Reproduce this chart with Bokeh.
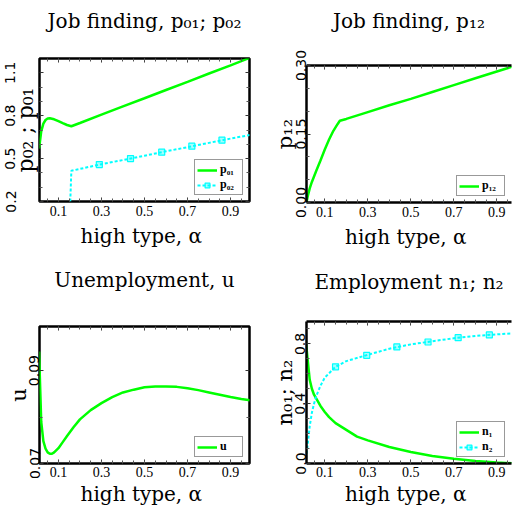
from bokeh.plotting import figure
from bokeh.models import (Range1d, LinearAxis, FixedTicker, NumeralTickFormatter,
                          Legend, LegendItem)
from bokeh.layouts import row, column
from bokeh.embed import file_html
from bokeh.resources import INLINE

# ---------------- data ----------------
alpha_p01 = [0.01, 0.02, 0.03, 0.04, 0.05, 0.06, 0.08, 0.10, 0.12, 0.14, 0.16,
             0.20, 0.30, 0.40, 0.50, 0.60, 0.70, 0.80, 0.90, 0.99]
p01 = [0.57, 0.69, 0.745, 0.77, 0.78, 0.782, 0.775, 0.762, 0.748, 0.735, 0.726,
       0.749, 0.807, 0.865, 0.922, 0.98, 1.037, 1.095, 1.152, 1.205]

alpha_p02 = [0.155, 0.16, 0.20, 0.30, 0.40, 0.50, 0.60, 0.70, 0.80, 0.90, 0.99]
p02 = [0.20, 0.415, 0.428, 0.461, 0.49, 0.52, 0.551, 0.58, 0.61, 0.64, 0.665]
alpha_p02_mk = [0.29, 0.435, 0.58, 0.72, 0.86]
p02_mk = [0.458, 0.50, 0.545, 0.587, 0.629]

alpha_p12 = [0.015, 0.02, 0.03, 0.04, 0.06, 0.08, 0.10, 0.12, 0.14, 0.16, 0.17,
             0.20, 0.30, 0.40, 0.50, 0.60, 0.70, 0.80, 0.90, 0.99]
p12 = [0.0, 0.012, 0.031, 0.045, 0.069, 0.092, 0.116, 0.138, 0.157, 0.172, 0.179,
       0.183, 0.198, 0.213, 0.227, 0.242, 0.257, 0.272, 0.287, 0.300]

alpha_u = [0.01, 0.02, 0.03, 0.04, 0.05, 0.06, 0.07, 0.08, 0.10, 0.12, 0.14, 0.17,
           0.20, 0.25, 0.30, 0.35, 0.40, 0.45, 0.50, 0.55, 0.60, 0.65, 0.70, 0.75,
           0.80, 0.85, 0.90, 0.95, 0.99]
u = [0.0941, 0.0790, 0.0748, 0.0732, 0.0724, 0.0721, 0.0721, 0.0724, 0.0733, 0.0746,
     0.0759, 0.0778, 0.0795, 0.0815, 0.0830, 0.0843, 0.0853, 0.0859, 0.0864, 0.0866,
     0.0866, 0.0865, 0.0862, 0.0858, 0.0853, 0.0848, 0.0843, 0.0839, 0.0836]

alpha_n1 = [0.01, 0.02, 0.03, 0.04, 0.05, 0.06, 0.08, 0.10, 0.12, 0.15, 0.20, 0.25,
            0.30, 0.40, 0.50, 0.60, 0.70, 0.80, 0.90, 0.99]
n1 = [0.85, 0.70, 0.56, 0.50, 0.46, 0.435, 0.385, 0.345, 0.31, 0.27, 0.225, 0.18,
      0.155, 0.11, 0.077, 0.05, 0.032, 0.017, 0.006, 0.0]

alpha_n2 = [0.01, 0.02, 0.03, 0.04, 0.05, 0.06, 0.08, 0.10, 0.15, 0.20, 0.30, 0.40,
            0.50, 0.60, 0.70, 0.80, 0.90, 0.99]
n2 = [0.0, 0.12, 0.25, 0.34, 0.40, 0.45, 0.52, 0.575, 0.647, 0.685, 0.727, 0.768,
      0.797, 0.818, 0.838, 0.853, 0.864, 0.872]
alpha_n2_mk = [0.15, 0.295, 0.435, 0.58, 0.72, 0.865]
n2_mk = [0.647, 0.724, 0.78, 0.813, 0.842, 0.86]

x_ticks = [0.1, 0.3, 0.5, 0.7, 0.9]
x_minor = [0.05, 0.1, 0.15, 0.2, 0.25, 0.3, 0.35, 0.4, 0.45, 0.5, 0.55, 0.6,
           0.65, 0.7, 0.75, 0.8, 0.85, 0.9, 0.95]

GREEN = "#00ff00"
CYAN = "#00ffff"
SERIF = "DejaVu Serif"
XLAB = "high type,  \u03b1"


def hide_labels(a):
    a.major_label_text_font_size = "1px"
    a.major_label_text_color = None
    a.major_label_standoff = 0


def ticks_in(a):
    a.major_tick_in = 4
    a.major_tick_out = 0
    a.minor_tick_in = 3
    a.minor_tick_out = 0
    a.major_tick_line_color = "#333333"
    a.minor_tick_line_color = "#555555"


def style_label(a, size="20px"):
    a.axis_label_text_font = SERIF
    a.axis_label_text_font_size = size
    a.axis_label_text_font_style = "normal"
    a.axis_label_text_color = "black"


def panel(width, height, bl, br, bt, bb, xr, yr, yticks, yminor, yfmt,
          title, t_stand, ylabel, y_tick_stand, y_lab_stand, x_tick_stand,
          x_lab_stand, open_right, outer_ticklabels=False, outer_stand=0,
          ylab_size="21px"):
    p = figure(width=width, height=height, output_backend="svg",
               toolbar_location=None, x_range=Range1d(*xr), y_range=Range1d(*yr),
               min_border_left=bl, min_border_right=br, min_border_top=bt,
               min_border_bottom=bb, background_fill_color="white",
               border_fill_color="white")
    p.xgrid.visible = False
    p.ygrid.visible = False

    xt = FixedTicker(ticks=x_ticks, minor_ticks=x_minor)
    yt = FixedTicker(ticks=yticks, minor_ticks=yminor)
    yf = NumeralTickFormatter(format=yfmt)

    # bottom axis: tick labels + x label
    xa = p.xaxis[0]
    xa.ticker = xt
    xa.formatter = NumeralTickFormatter(format="0.0")
    xa.major_label_text_font = "Liberation Serif"
    xa.major_label_text_font_size = "14px"
    xa.major_label_text_color = "black"
    xa.major_label_standoff = x_tick_stand
    xa.axis_label = XLAB
    style_label(xa)
    xa.axis_label_standoff = x_lab_stand

    # left axis
    ya = p.yaxis[0]
    ya.ticker = yt
    ya.formatter = yf
    ya.major_label_orientation = "vertical"
    ya.major_label_text_font = "DejaVu Sans"
    ya.major_label_text_font_size = "14px"
    ya.major_label_text_color = "black"
    ya.major_label_standoff = y_tick_stand
    ya.axis_label = ylabel
    style_label(ya, ylab_size)
    ya.axis_label_standoff = y_lab_stand
    if outer_ticklabels:
        hide_labels(ya)
        oy = LinearAxis(ticker=yt, formatter=yf, major_label_orientation="vertical",
                        major_label_text_font="DejaVu Sans",
                        major_label_text_font_size="14px",
                        major_label_text_color="black",
                        major_label_standoff=outer_stand,
                        major_tick_in=0, major_tick_out=0, minor_tick_in=0,
                        minor_tick_out=0, axis_line_color=None)
        p.add_layout(oy, "left")

    # top axis: ticks + title as its label
    top = LinearAxis(ticker=xt, axis_label=title)
    hide_labels(top)
    style_label(top)
    top.axis_label_standoff = t_stand
    p.add_layout(top, "above")

    axes = [xa, ya, top]
    if not open_right:
        right = LinearAxis(ticker=yt)
        hide_labels(right)
        p.add_layout(right, "right")
        axes.append(right)
    for a in axes:
        ticks_in(a)
    if open_right:
        p.outline_line_color = None
        for a in (xa, ya, top):
            a.axis_line_color = "black"
            a.axis_line_width = 2.5
    else:
        p.outline_line_color = "black"
        p.outline_line_width = 2.5
        for a in axes:
            a.axis_line_color = None
    return p


def legend(p, items):
    lg = Legend(items=items, location="bottom_right", margin=6, padding=2,
                spacing=0, border_line_color="#333333", border_line_width=1.5,
                background_fill_alpha=1.0, label_text_font="Liberation Serif",
                label_text_font_size="12px", label_text_font_style="bold",
                label_text_color="black",
                glyph_width=20, glyph_height=12, label_height=12,
                label_standoff=3)
    p.add_layout(lg)


# ---- top left: p01, p02 ----
p1 = panel(256, 256, 39, 7, 58, 55, (0.012, 0.988), (0.2, 1.2),
           [0.2, 0.5, 0.8, 1.1], [0.3, 0.4, 0.6, 0.7, 0.9, 1.0], "0.0",
           "Job finding, p\u2080\u2081; p\u2080\u2082", 26,
           "p\u2080\u2082 ; p\u2080\u2081", 0, 2, 4, 5, False,
           outer_ticklabels=True, outer_stand=-6, ylab_size="22px")
r1 = p1.line(alpha_p01, p01, line_color=GREEN, line_width=2.5)
r2 = p1.line(alpha_p02, p02, line_color=CYAN, line_width=2, line_dash="3 2")
r2m = p1.scatter(alpha_p02_mk, p02_mk, marker="square", size=6, line_color=CYAN,
                 fill_color=CYAN, fill_alpha=0.35, line_width=1.2)
legend(p1, [LegendItem(label="p\u2080\u2081", renderers=[r1]),
            LegendItem(label="p\u2080\u2082", renderers=[r2, r2m])])

# ---- top right: p12 ----
p2 = panel(256, 256, 50, 1, 65, 54, (0.015, 0.968), (0.0, 0.30),
           [0.0, 0.15, 0.30], [0.05, 0.1, 0.2, 0.25], "0.00",
           "Job finding, p\u2081\u2082", 33,
           "p\u2081\u2082", 1, -4, 4, 5, True)
r3 = p2.line(alpha_p12, p12, line_color=GREEN, line_width=2.5)
legend(p2, [LegendItem(label="p\u2081\u2082", renderers=[r3])])

# ---- bottom left: u ----
p3 = panel(256, 258, 39, 7, 70, 51, (0.012, 0.988), (0.070, 0.0995),
           [0.07, 0.09], [0.08], "0.00",
           "Unemployment, u", 35,
           "u", 0, -4, 3, 2, False)
r4 = p3.line(alpha_u, u, line_color=GREEN, line_width=2.5)
legend(p3, [LegendItem(label="u", renderers=[r4])])

# ---- bottom right: n1, n2 ----
p4 = panel(256, 258, 50, 1, 65, 51, (0.015, 0.968), (0.0, 0.95),
           [0.0, 0.4, 0.8], [0.1, 0.2, 0.3, 0.5, 0.6, 0.7, 0.9], "0.0",
           "Employment n\u2081; n\u2082", 28,
           "n\u2080\u2081; n\u2082", 1, -4, 3, 2, True)
r5 = p4.line(alpha_n1, n1, line_color=GREEN, line_width=2.5)
r6 = p4.line(alpha_n2, n2, line_color=CYAN, line_width=2, line_dash="3 2")
r6m = p4.scatter(alpha_n2_mk, n2_mk, marker="square", size=6, line_color=CYAN,
                 fill_color=CYAN, fill_alpha=0.35, line_width=1.2)
legend(p4, [LegendItem(label="n\u2081", renderers=[r5]),
            LegendItem(label="n\u2082", renderers=[r6, r6m])])

layout = row(column(p1, p3), column(p2, p4))
open("out.html", "w").write(file_html(layout, INLINE))
